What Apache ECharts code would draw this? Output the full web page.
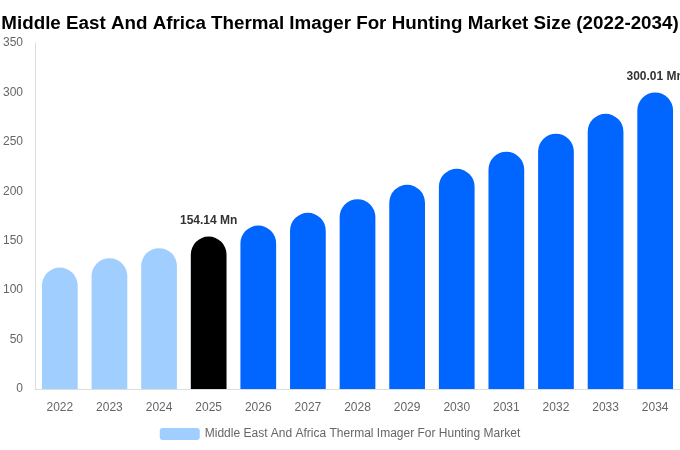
<!DOCTYPE html>
<html>
<head>
<meta charset="utf-8">
<script src="https://cdn.jsdelivr.net/npm/echarts@6/dist/echarts.min.js"></script>
<style>
    html, body { margin: 0; padding: 0; background: #fff; }
    #chart { width: 680px; height: 450px; }
</style>
</head>
<body>
<div id="chart"></div>
<script>
// 数据
const years = ['2022', '2023', '2024', '2025', '2026', '2027', '2028', '2029', '2030', '2031', '2032', '2033', '2034'];
const marketSize = [122.8, 132.3, 142.5, 154.14, 165.3, 178.2, 192.0, 206.5, 222.7, 240.0, 258.2, 278.4, 300.01];
const barColors = ['#a0cfff', '#a0cfff', '#a0cfff', '#000000', '#0066ff', '#0066ff', '#0066ff', '#0066ff', '#0066ff', '#0066ff', '#0066ff', '#0066ff', '#0066ff'];
const labelledYears = ['2025', '2034'];

const chart = echarts.init(document.getElementById('chart'));

const option = {
    animation: false,
    title: {
        text: 'Middle East And Africa Thermal Imager For Hunting Market Size (2022-2034)',
        left: 'center',
        top: 9,
        textStyle: {
            fontFamily: 'Liberation Sans, Arial, sans-serif',
            fontSize: 18.8,
            fontWeight: 'bold',
            color: '#000'
        }
    },
    legend: {
        bottom: 5,
        left: 'center',
        itemWidth: 40,
        itemHeight: 12,
        textStyle: {
            fontFamily: 'Liberation Sans, Arial, sans-serif',
            fontSize: 12,
            color: '#666'
        },
        data: [{ name: 'Middle East And Africa Thermal Imager For Hunting Market', itemStyle: { color: '#a0cfff' } }]
    },
    grid: {
        left: 34,
        right: 0,
        top: 43,
        bottom: 61
    },
    xAxis: {
        type: 'category',
        data: years,
        axisLine: { lineStyle: { color: '#dddddd' } },
        axisTick: { show: false },
        axisLabel: {
            color: '#666',
            fontFamily: 'Liberation Sans, Arial, sans-serif',
            fontSize: 12,
            margin: 13
        }
    },
    yAxis: {
        type: 'value',
        min: 0,
        max: 350,
        interval: 50,
        axisLine: { show: true, lineStyle: { color: '#dddddd' } },
        axisTick: { show: false },
        splitLine: { show: false },
        axisLabel: {
            color: '#666',
            fontFamily: 'Liberation Sans, Arial, sans-serif',
            fontSize: 12,
            margin: 12
        }
    },
    series: [{
        name: 'Middle East And Africa Thermal Imager For Hunting Market',
        type: 'bar',
        barWidth: '72%',
        data: marketSize.map(function(v, i) {
            return {
                value: v,
                itemStyle: { color: barColors[i], borderRadius: [18, 18, 0, 0] },
                label: { show: labelledYears.indexOf(years[i]) !== -1 }
            };
        }),
        label: {
            position: 'top',
            distance: 10,
            color: '#333',
            fontFamily: 'Liberation Sans, Arial, sans-serif',
            fontSize: 12,
            fontWeight: 'bold',
            formatter: function(p) { return p.value + ' Mn'; }
        }
    }]
};

chart.setOption(option);
</script>
</body>
</html>
